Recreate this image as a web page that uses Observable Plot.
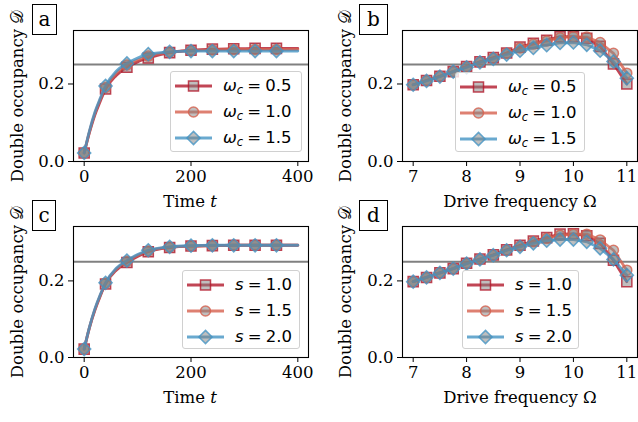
<!DOCTYPE html>
<html><head><meta charset="utf-8">
<script src="https://cdn.jsdelivr.net/npm/d3@7"></script>
<script src="https://cdn.jsdelivr.net/npm/@observablehq/plot@0.6"></script>
<style>
body{margin:0;background:#fff;}
#fig{position:relative;width:638px;height:422px;overflow:hidden;font-family:"DejaVu Serif",serif;background:#fff;}
.panel{position:absolute;}
.lab{position:absolute;font-size:16.5px;white-space:nowrap;color:#000;line-height:1;}
.ylab{transform:translate(-50%,-50%) rotate(-90deg);}
.xlab{transform:translate(-50%,-50%);}
.tag{position:absolute;box-sizing:border-box;border:1px solid #000;font-size:20px;line-height:28px;text-align:center;}
.legend{position:absolute;box-sizing:border-box;border:1px solid #d0d0d0;border-radius:3px;background:rgba(255,255,255,0.8);font-family:"DejaVu Sans",sans-serif;font-size:16.5px;}
.row{position:absolute;left:0;height:20px;}
.row svg{position:absolute;left:4px;top:0;}
.row span{position:absolute;left:52px;top:0;line-height:20px;white-space:nowrap;}
sub{font-size:70%;vertical-align:-0.3em;line-height:0;}
</style>
</head><body><div id="fig"></div>
<script>
// ---------- data ----------
const timeT = [0,10,20,30,40,60,80,100,120,160,200,240,280,320,360,400];
const markerTimes = [0,40,80,120,160,200,240,280,320,360];
const aW05 = [0.022,0.075,0.120,0.155,0.187,0.222,0.243,0.257,0.267,0.281,0.287,0.290,0.291,0.292,0.292,0.292];
const aW10 = [0.022,0.078,0.124,0.160,0.191,0.228,0.249,0.262,0.272,0.282,0.286,0.288,0.289,0.289,0.289,0.289];
const aW15 = [0.022,0.080,0.127,0.163,0.195,0.233,0.253,0.267,0.277,0.283,0.285,0.285,0.285,0.285,0.285,0.285];
const cS10 = [0.022,0.078,0.123,0.160,0.192,0.228,0.248,0.264,0.276,0.287,0.291,0.292,0.293,0.293,0.293,0.293];
const cS15 = [0.022,0.079,0.125,0.162,0.194,0.231,0.251,0.267,0.278,0.288,0.291,0.292,0.293,0.293,0.293,0.293];
const cS20 = [0.022,0.080,0.127,0.164,0.195,0.233,0.253,0.269,0.280,0.289,0.292,0.293,0.293,0.293,0.293,0.293];
const omega = [7,7.25,7.5,7.75,8,8.25,8.5,8.75,9,9.25,9.5,9.75,10,10.25,10.5,10.75,11];
const bW05 = [0.198,0.209,0.220,0.232,0.245,0.257,0.268,0.280,0.295,0.305,0.313,0.322,0.322,0.318,0.297,0.252,0.200];
const bW10 = [0.198,0.209,0.220,0.232,0.244,0.256,0.267,0.279,0.293,0.303,0.311,0.319,0.322,0.321,0.307,0.279,0.228];
const bW15 = [0.198,0.208,0.219,0.232,0.243,0.256,0.265,0.276,0.286,0.293,0.300,0.306,0.307,0.301,0.286,0.258,0.215];
const dS10 = [0.198,0.209,0.221,0.232,0.246,0.257,0.268,0.281,0.293,0.304,0.313,0.322,0.323,0.318,0.298,0.254,0.198];
const dS15 = [0.198,0.209,0.221,0.232,0.245,0.256,0.267,0.280,0.291,0.302,0.311,0.319,0.322,0.322,0.307,0.280,0.228];
const dS20 = [0.198,0.209,0.221,0.232,0.245,0.256,0.267,0.280,0.289,0.298,0.305,0.308,0.308,0.302,0.285,0.256,0.215];
const omegaLabels = ["0.5","1.0","1.5"];
const sLabels = ["1.0","1.5","2.0"];
const refLine = 0.25;
const timeTicks = [0,200,400];
const freqTicks = [7,8,9,10,11];
const yTicks = [0,0.2];
const colors = ["#b2182b","#d6604d","#4393c3"];
const symbols = ["square","circle","diamond2"];
const radii = [5.7,5.0,5.9];

// ---------- helpers ----------
function rows(xs, ys){ return xs.map((x,i)=>({x, y: ys[i]})); }

function makePanel(o){
  const marks = [Plot.ruleY([refLine], {stroke:"#808080", strokeWidth:2})];
  o.series.forEach((ys,i)=>{
    const data = rows(o.xs, ys);
    const mk = o.markers ? data.filter(d=>o.markers.includes(d.x)) : data;
    marks.push(Plot.line(data, {x:"x", y:"y", stroke:colors[i], strokeOpacity:0.8, strokeWidth:2.8, curve:o.curve}));
    marks.push(Plot.dot(mk, {x:"x", y:"y", symbol:()=>symbols[i], r:radii[i], fill:"gray", fillOpacity:0.5, stroke:colors[i], strokeOpacity:0.8, strokeWidth:1.5}));
  });
  marks.push(Plot.frame({stroke:"#000", strokeWidth:1.1}));
  marks.push(Plot.axisX({ticks:o.xticks, tickSize:5, tickPadding:4, tickFormat:d3.format("d"), label:null}));
  marks.push(Plot.axisY({ticks:yTicks, tickSize:5, tickPadding:4, tickFormat:d3.format(".1f"), label:null}));
  const svg = Plot.plot({
    width:o.width, height:o.height,
    marginLeft:o.ml, marginRight:o.mr, marginTop:o.mt, marginBottom:o.mb,
    x:{domain:o.xdomain}, y:{domain:o.ydomain},
    symbol:{type:"identity"},
    style:{fontFamily:"DejaVu Serif", fontSize:"16.5px", background:"transparent", overflow:"visible", color:"#000"},
    marks
  });
  svg.classList.add("panel");
  svg.style.left = o.left+"px"; svg.style.top = o.top+"px";
  return svg;
}

const fig = document.getElementById("fig");
const panels = [
  {left:0, top:0, width:320, height:210, ml:73, mr:12, mt:30, mb:49, xs:timeT, markers:markerTimes, series:[aW05,aW10,aW15], xdomain:[-20,420], ydomain:[0,0.338], xticks:timeTicks, curve:"monotone-x"},
  {left:320, top:0, width:318, height:210, ml:82, mr:1, mt:30, mb:49, xs:omega, markers:null, series:[bW05,bW10,bW15], xdomain:[6.8,11.2], ydomain:[0,0.338], xticks:freqTicks, curve:"linear"},
  {left:0, top:210, width:320, height:212, ml:73, mr:12, mt:16, mb:65, xs:timeT, markers:markerTimes, series:[cS10,cS15,cS20], xdomain:[-20,420], ydomain:[0,0.342], xticks:timeTicks, curve:"monotone-x"},
  {left:320, top:210, width:318, height:212, ml:82, mr:1, mt:16, mb:65, xs:omega, markers:null, series:[dS10,dS15,dS20], xdomain:[6.8,11.2], ydomain:[0,0.342], xticks:freqTicks, curve:"linear"}
];
panels.forEach(p=>fig.appendChild(makePanel(p)));

function addLabel(html, x, y, cls){
  const d = document.createElement("div");
  d.className = "lab "+cls; d.innerHTML = html;
  d.style.left = x+"px"; d.style.top = y+"px";
  fig.appendChild(d);
}
const yLabel = "Double occupancy 𝒟";
[[18,96],[346,96],[18,292],[346,292]].forEach(([x,y])=>addLabel(yLabel,x,y,"ylab"));
addLabel("Time <i>t</i>",190,202,"xlab");
addLabel("Time <i>t</i>",190,398,"xlab");
addLabel("Drive frequency Ω",520,202,"xlab");
addLabel("Drive frequency Ω",520,398,"xlab");

function addTag(t, x, y, w){
  const d = document.createElement("div");
  d.className="tag"; d.textContent=t;
  d.style.left=x+"px"; d.style.top=y+"px"; d.style.width=w+"px"; d.style.height="31px";
  fig.appendChild(d);
}
addTag("a",32,4,25); addTag("b",359,4,29); addTag("c",32,200,24); addTag("d",359,200,29);

function markerSvg(i){
  const c = colors[i];
  let m;
  if (symbols[i]==="square") m = `<rect x="13.5" y="5" width="10" height="10" fill="gray" fill-opacity="0.5" stroke="${c}" stroke-opacity="0.8" stroke-width="1.5"/>`;
  else if (symbols[i]==="circle") m = `<circle cx="18.5" cy="10" r="5" fill="gray" fill-opacity="0.5" stroke="${c}" stroke-opacity="0.8" stroke-width="1.5"/>`;
  else m = `<path d="M18.5,3.4L25.1,10L18.5,16.6L11.9,10Z" fill="gray" fill-opacity="0.5" stroke="${c}" stroke-opacity="0.8" stroke-width="1.5"/>`;
  return `<svg width="40" height="20"><line x1="0" y1="10" x2="37" y2="10" stroke="${c}" stroke-opacity="0.8" stroke-width="2.8"/>${m}</svg>`;
}
function addLegend(x, y, w, h, sym, labels){
  const L = document.createElement("div");
  L.className="legend";
  L.style.left=x+"px"; L.style.top=y+"px"; L.style.width=w+"px"; L.style.height=h+"px";
  labels.forEach((lab,i)=>{
    const r = document.createElement("div");
    r.className="row"; r.style.top=(4+i*26)+"px"; r.style.width=w+"px";
    r.innerHTML = markerSvg(i) + `<span>${sym}&#8197;=&#8197;${lab}</span>`;
    L.appendChild(r);
  });
  fig.appendChild(L);
}
addLegend(170,71,132,81,"<i>ω</i><sub><i>c</i></sub>",omegaLabels);
addLegend(455,72,130,80,"<i>ω</i><sub><i>c</i></sub>",omegaLabels);
addLegend(182,270,118,79,"<i>s</i>",sLabels);
addLegend(462,270,117,79,"<i>s</i>",sLabels);
</script>
</body></html>
